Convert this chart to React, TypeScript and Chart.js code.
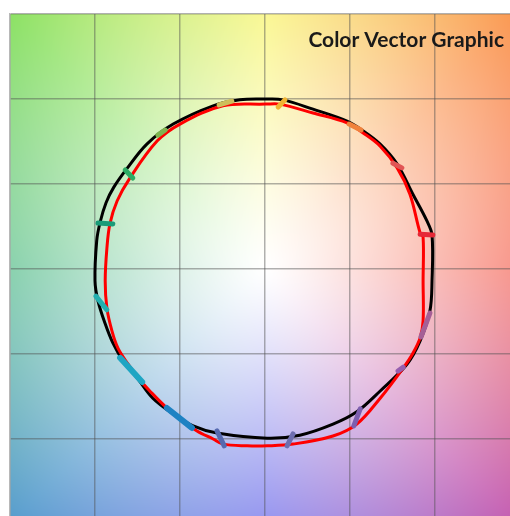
import React, { useEffect, useRef } from "react";
import { Chart, registerables } from "chart.js";
Chart.register(...registerables);

const TITLE = "Color Vector Graphic";

// reference (black) curve, a* / b*
const blackA = [0, 4.2, 11.3, 19.3, 23.1, 27.1, 31.1, 34.8, 38.1, 39.3, 39.3, 38.8, 36.5, 33.4, 27.1, 21.6, 16.0, 8.2, 0.5, -11.3, -16.9, -21.6, -26.4, -30.1, -33.4, -35.8, -37.6, -39.3, -40.0, -39.6, -38.8, -37.4, -35.6, -32.5, -27.8, -21.6, -12.2, -5.9];
const blackB = [40.0, 39.8, 37.6, 34.8, 32.5, 29.4, 24.7, 17.6, 11.3, 8.0, -2.8, -9.9, -16.9, -22.4, -28.7, -33.6, -36.5, -39.1, -39.8, -38.6, -36.9, -34.1, -30.4, -25.6, -21.6, -17.4, -12.9, -7.5, -2.8, 6.6, 11.0, 15.6, 19.2, 23.6, 29.4, 34.1, 38.4, 39.8];

// sample (red) curve
const redA = [0, 3.5, 11.3, 19.3, 23.1, 27.1, 31.1, 34.1, 36.5, 37.2, 37.2, 37.2, 36.5, 34.8, 32.5, 27.1, 21.6, 16.0, 6.6, 0.5, -4.2, -9.9, -12.2, -16.0, -20.0, -23.1, -27.1, -29.9, -32.2, -34.6, -36.0, -37.2, -37.6, -37.2, -36.5, -34.8, -31.8, -25.4, -20.0, -9.9];
const redB = [38.8, 38.8, 36.7, 34.4, 32.0, 28.9, 23.8, 17.6, 8.5, 7.5, -2.8, -12.2, -16.2, -19.8, -23.3, -30.4, -36.5, -39.3, -41.2, -41.6, -41.6, -41.2, -40.0, -38.1, -35.1, -32.7, -28.7, -25.6, -22.4, -18.6, -14.6, -9.2, -2.8, 4.9, 10.6, 16.0, 21.4, 30.1, 34.1, 38.4];

// color vectors: from black point to red point
const vecStartA = [-7.8, 4.7, 22.6, 32.2, 39.5, 38.8, 32.5, 22.4, 6.6, -11.3, -23.1, -34.1, -39.8, -39.3, -32.9, -23.5];
const vecStartB = [39.5, 39.8, 32.7, 23.8, 8.0, -10.4, -23.1, -32.9, -38.8, -38.1, -32.7, -20.9, -6.4, 10.8, 23.3, 32.7];
const vecEndA = [-10.8, 3.1, 19.8, 30.1, 36.5, 36.7, 31.3, 20.9, 5.2, -9.6, -17.2, -28.9, -37.2, -35.8, -31.1, -25.2];
const vecEndB = [38.6, 38.1, 34.1, 24.9, 8.2, -16.0, -24.0, -36.9, -41.6, -41.6, -37.4, -26.6, -9.6, 10.6, 21.4, 31.5];
const vecColors = [
  "rgb(205,190,90)", "rgb(240,180,50)", "rgb(240,130,60)", "rgb(225,85,85)",
  "rgb(230,40,55)", "rgb(165,95,150)", "rgb(150,95,175)", "rgb(125,95,175)",
  "rgb(110,110,175)", "rgb(85,105,175)", "rgb(30,130,195)", "rgb(30,165,195)",
  "rgb(35,175,175)", "rgb(25,155,120)", "rgb(45,170,100)", "rgb(125,180,80)",
];

// background hue wheel keys
const bgAngles = [0, 45, 90, 135, 180, 225, 270, 315, 360];
const bgColors = [
  [244, 96, 80], [250, 150, 80], [247, 244, 96], [140, 225, 100],
  [80, 187, 134], [85, 155, 205], [96, 96, 232], [195, 90, 175], [244, 96, 80],
];

const AXIS_MIN = -60;
const AXIS_MAX = 60;
const AXIS_STEP = 20;

function bgColorAt(a: number, b: number): number[] {
  let ang = (Math.atan2(b, a) * 180) / Math.PI;
  if (ang < 0) ang += 360;
  let i = 0;
  while (i < bgAngles.length - 2 && ang > bgAngles[i + 1]) i++;
  const f = (ang - bgAngles[i]) / (bgAngles[i + 1] - bgAngles[i]);
  const c0 = bgColors[i];
  const c1 = bgColors[i + 1];
  const full = [0, 1, 2].map((k) => c0[k] + (c1[k] - c0[k]) * f);
  const r = Math.sqrt(a * a + b * b);
  const t = Math.min(1, Math.pow(r / 85, 1.15));
  return full.map((v) => 255 - (255 - v) * t);
}

const bgPlugin = {
  id: "bgWheel",
  beforeDraw(chart: any) {
    const { ctx, chartArea, scales } = chart;
    const w = Math.round(chartArea.right - chartArea.left);
    const h = Math.round(chartArea.bottom - chartArea.top);
    const off = document.createElement("canvas");
    off.width = w;
    off.height = h;
    const octx = off.getContext("2d")!;
    const img = octx.createImageData(w, h);
    for (let py = 0; py < h; py++) {
      const b = scales.y.getValueForPixel(chartArea.top + py + 0.5);
      for (let px = 0; px < w; px++) {
        const a = scales.x.getValueForPixel(chartArea.left + px + 0.5);
        const c = bgColorAt(a, b);
        const idx = (py * w + px) * 4;
        img.data[idx] = c[0];
        img.data[idx + 1] = c[1];
        img.data[idx + 2] = c[2];
        img.data[idx + 3] = 255;
      }
    }
    octx.putImageData(img, 0, 0);
    ctx.save();
    ctx.drawImage(off, chartArea.left, chartArea.top);
    ctx.restore();
  },
  afterDatasetsDraw(chart: any) {
    const { ctx } = chart;
    ctx.save();
    ctx.font = 'bold 21px Lato, "Open Sans", sans-serif';
    ctx.fillStyle = "#1a1a1a";
    ctx.textAlign = "right";
    ctx.textBaseline = "middle";
    ctx.fillText(TITLE, 504, 40);
    ctx.restore();
  },
};

function closed(xs: number[], ys: number[]) {
  const pts = xs.map((x, i) => ({ x, y: ys[i] }));
  pts.push({ x: xs[0], y: ys[0] });
  return pts;
}

export default function App() {
  const ref = useRef<HTMLCanvasElement>(null);
  useEffect(() => {
    if (!ref.current) return;
    const vectors = vecStartA.map((_, i) => ({
      data: [
        { x: vecStartA[i], y: vecStartB[i] },
        { x: vecEndA[i], y: vecEndB[i] },
      ],
      showLine: true,
      borderColor: vecColors[i],
      borderWidth: i === 10 || i === 11 ? 6 : 5,
      borderCapStyle: "round" as const,
      pointRadius: 0,
      order: 1,
    }));
    const chart = new Chart(ref.current, {
      type: "scatter",
      data: {
        datasets: [
          {
            data: closed(blackA, blackB),
            showLine: true,
            borderColor: "#000000",
            borderWidth: 3,
            tension: 0.35,
            pointRadius: 0,
            order: 3,
          },
          {
            data: closed(redA, redB),
            showLine: true,
            borderColor: "#ff0000",
            borderWidth: 3,
            tension: 0.35,
            pointRadius: 0,
            order: 2,
          },
          ...vectors,
        ],
      },
      options: {
        responsive: false,
        animation: false,
        layout: { padding: { left: 10, top: 14, right: 0, bottom: 0 } },
        plugins: { legend: { display: false }, tooltip: { enabled: false }, title: { display: false } },
        scales: {
          x: {
            type: "linear",
            min: AXIS_MIN,
            max: AXIS_MAX,
            ticks: { display: false, stepSize: AXIS_STEP },
            grid: { color: "rgba(80,80,80,0.45)", lineWidth: 1.5, drawTicks: false },
            border: { display: true, color: "#b8b8b8", width: 1.5 },
          },
          y: {
            type: "linear",
            min: AXIS_MIN,
            max: AXIS_MAX,
            ticks: { display: false, stepSize: AXIS_STEP },
            grid: { color: "rgba(80,80,80,0.45)", lineWidth: 1.5, drawTicks: false },
            border: { display: true, color: "#b8b8b8", width: 1.5 },
          },
        },
      },
      plugins: [bgPlugin],
    });
    return () => chart.destroy();
  }, []);
  return (
    <div style={{ position: "fixed", left: 0, top: 0, width: 510, height: 516, overflow: "hidden", background: "#fff" }}>
      <canvas ref={ref} width={520} height={524} style={{ display: "block" }} />
    </div>
  );
}
